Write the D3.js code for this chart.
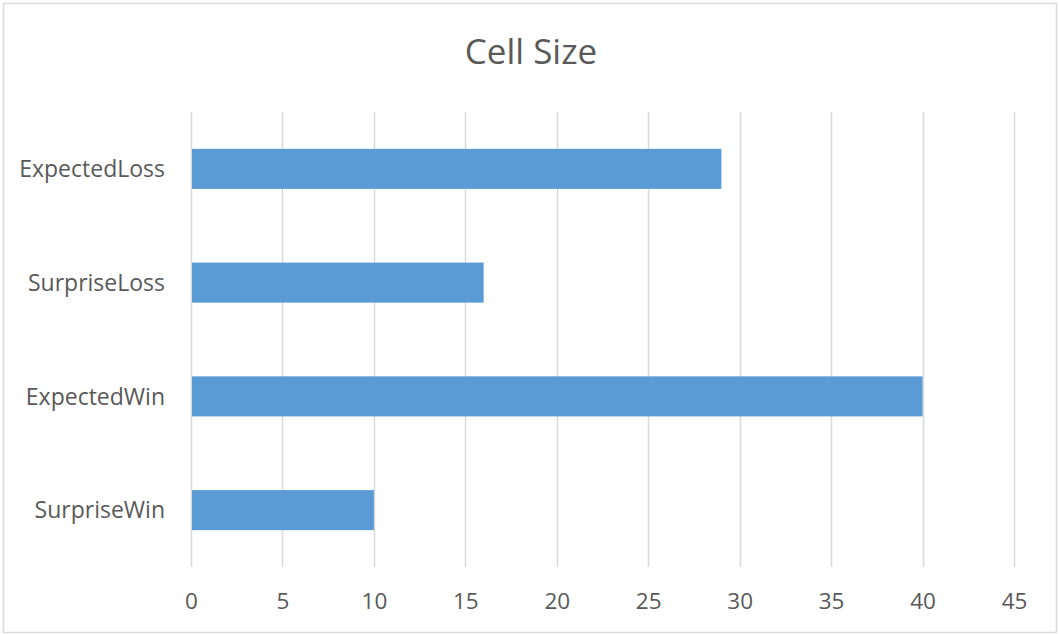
<!DOCTYPE html>
<html>
<head>
<meta charset="utf-8">
<script src="https://cdn.jsdelivr.net/npm/d3@7"></script>
<style>
  html, body { margin: 0; padding: 0; background: #fff; }
  svg { display: block; }
  text { font-family: "Open Sans", sans-serif; fill: #595959; }
</style>
</head>
<body>
<script>
// Chart data
const categories = ["ExpectedLoss", "SurpriseLoss", "ExpectedWin", "SurpriseWin"];
const values = [29, 16, 40, 10];
const tickValues = [0, 5, 10, 15, 20, 25, 30, 35, 40, 45];
const title = "Cell Size";

const width = 1059, height = 634;
const plot = { left: 191, right: 1014, top: 112, bottom: 567 };

const svg = d3.select("body").append("svg")
  .attr("width", width)
  .attr("height", height);

// outer chart border
svg.append("rect")
  .attr("x", 3.5).attr("y", 3.5)
  .attr("width", width - 2.5 - 3.5).attr("height", height - 1.5 - 3.5)
  .attr("fill", "#fff")
  .attr("stroke", "#d9d9d9")
  .attr("stroke-width", 1.5);

const x = d3.scaleLinear().domain([0, 45]).range([plot.left, plot.right]);
const y = d3.scaleBand().domain(categories).range([plot.top, plot.bottom]).paddingInner(0.648).paddingOuter(0.324);

// vertical gridlines
svg.append("g")
  .selectAll("line")
  .data(tickValues)
  .join("line")
  .attr("x1", d => Math.round(x(d)) + 0.5)
  .attr("x2", d => Math.round(x(d)) + 0.5)
  .attr("y1", plot.top)
  .attr("y2", plot.bottom)
  .attr("stroke", "#d9d9d9")
  .attr("stroke-width", 1.5);

// bars
svg.append("g")
  .selectAll("rect")
  .data(categories)
  .join("rect")
  .attr("x", x(0) + 1)
  .attr("y", d => y(d))
  .attr("width", (d, i) => x(values[i]) - x(0) - 1)
  .attr("height", y.bandwidth())
  .attr("fill", "#5b9bd5");

// x axis tick labels
const xAxis = d3.axisBottom(x).tickValues(tickValues).tickSize(0).tickPadding(0);
const gx = svg.append("g")
  .attr("transform", `translate(0, ${plot.bottom})`)
  .call(xAxis);
gx.select(".domain").remove();
gx.selectAll("text")
  .attr("y", 42)
  .attr("dy", 0)
  .style("font-size", "22.5px")
  .style("font-family", "'Open Sans', sans-serif")
  .attr("fill", "#595959");

// category labels
const yAxis = d3.axisLeft(y).tickSize(0).tickPadding(0);
const gy = svg.append("g")
  .attr("transform", `translate(${plot.left - 26}, 0)`)
  .call(yAxis);
gy.select(".domain").remove();
gy.selectAll("text")
  .attr("dy", "0.36em")
  .style("font-size", "23px")
  .style("font-family", "'Open Sans', sans-serif")
  .attr("fill", "#595959");

// title
svg.append("text")
  .attr("x", 531)
  .attr("y", 64)
  .attr("text-anchor", "middle")
  .style("font-size", "35px")
  .text(title);
</script>
</body>
</html>
